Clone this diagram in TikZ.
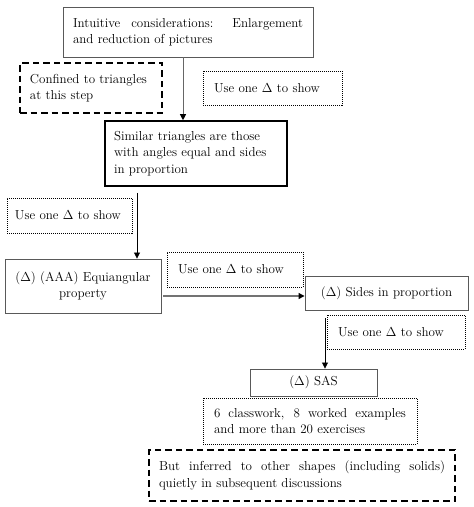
\documentclass[tikz,border=0pt]{standalone}
\usepackage{fix-cm}
\usepackage{fontspec}
\usepackage{tikz}
\usetikzlibrary{arrows.meta,positioning,calc}
\tikzset{
  font={\fontsize{13pt}{16.5}\selectfont}}

\begin{document}
\begin{tikzpicture}[x=1pt,y=-1pt,
    block_just/.style ={rectangle, draw=black!65, line width=0.9pt, fill=white,
      align=justify, inner xsep=10pt, inner ysep=0pt},
    block_bold/.style ={rectangle, draw=black, line width=1.6pt, fill=white,
      align=left, inner xsep=9pt, inner ysep=0pt},
    block_center/.style ={rectangle, draw=black!65, line width=0.9pt, fill=white,
      align=center, inner sep=0pt},
    block_dashed/.style ={rectangle, draw=black, line width=1.5pt, fill=white,
      dash pattern=on 6.5pt off 4pt, inner xsep=10pt, inner ysep=0pt},
    block_dotted/.style ={rectangle, draw=black, line width=1pt, fill=white,
      dash pattern=on 1pt off 1pt, align=left, inner xsep=11pt, inner ysep=0pt},
    paths2/.style={draw, line width=0.8pt,
      arrows={-Triangle[length=6pt, width=6pt, black]}}]
    \useasboundingbox (0,0) rectangle (474,507);
    % boxes, top to bottom
    \node[block_just, text width=230pt, minimum height=50pt] (intro1) at (188,32)
      {Intuitive considerations: Enlargement\linebreak and reduction of pictures};
    \node[block_dashed, text width=122pt, minimum height=50pt, align=left] (tri1) at (91,88)
      {Confined to triangles\\at this step};
    \node[block_dotted, text width=117pt, minimum height=34pt] (show1) at (272.5,88)
      {Use one $\Delta$ to show};
    \node[block_bold, text width=164pt, minimum height=65pt] (sim2) at (196,153.5)
      {Similar triangles are those\\with angles equal and sides\\in proportion};
    \node[block_dotted, text width=109pt, inner xsep=8pt, minimum height=35pt] (show2) at (69.5,215.5)
      {Use one $\Delta$ to show};
    \node[block_center, minimum width=156pt, minimum height=54pt] (aaa3) at (83,286)
      {($\Delta$) (AAA) Equiangular\\property};
    \node[block_dotted, text width=114pt, minimum height=35pt] (show3) at (235,269.5)
      {Use one $\Delta$ to show};
    \node[block_center, minimum width=163pt, minimum height=34pt] (sides4) at (386.5,293)
      {($\Delta$) Sides in proportion};
    \node[block_dotted, text width=116pt, minimum height=34pt] (show4) at (396,332)
      {Use one $\Delta$ to show};
    \node[block_center, minimum width=127pt, minimum height=27pt] (sas5) at (313.5,382.5)
      {($\Delta$) SAS};
    \node[block_dotted, text width=192pt, minimum height=46pt, align=justify] (work6) at (310,421)
      {6 classwork, 8 worked examples\linebreak and more than 20 exercises};
    \node[block_dashed, text width=286pt, minimum height=51pt, align=justify] (infer7) at (302,475.5)
      {But inferred to other shapes (including solids)\linebreak quietly in subsequent discussions};
    % connecting boxes
    \coordinate (a2) at ([xshift=-59pt]sim2.south);
    \coordinate (r3) at ([yshift=-10pt]aaa3.east);
    \coordinate (a4) at ([xshift=-61.5pt]sides4.south);
    \begin{scope}[every path/.style=paths2]
      \path[draw=black!60] ([xshift=-5pt]intro1.south)--([xshift=-13pt]sim2.north);
      \path[shorten <=6pt](a2)--(a2 |- aaa3.north);
      \path[draw=black!55, line width=1.2pt, shorten <=2pt](r3)--(r3 -| sides4.west);
      \path[shorten <=8pt](a4)--(a4 |- sas5.north);
    \end{scope}
\end{tikzpicture}
\end{document}
